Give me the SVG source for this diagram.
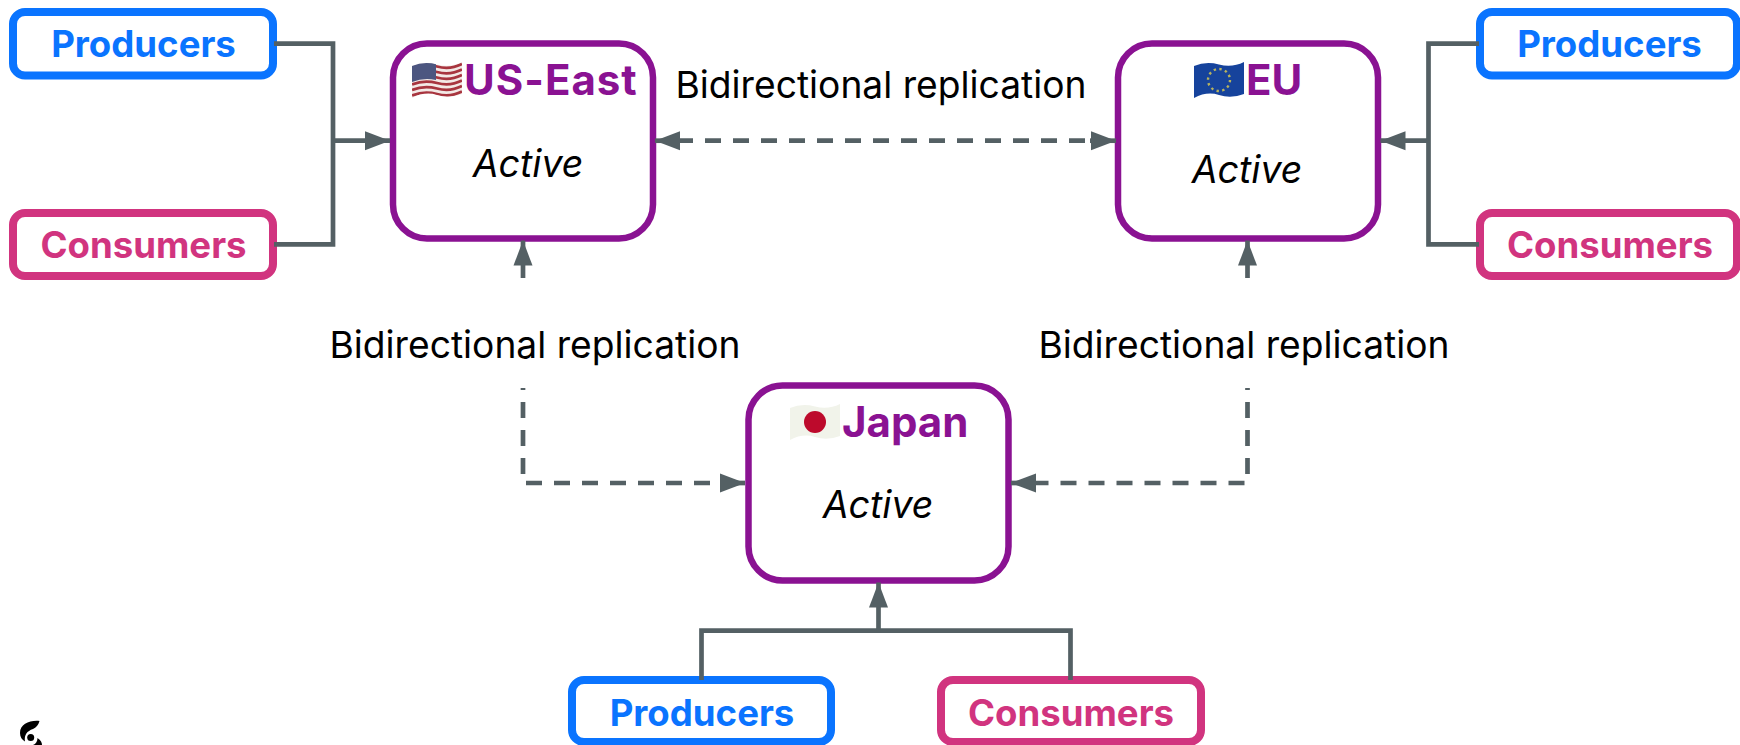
<svg xmlns="http://www.w3.org/2000/svg" width="1740" height="745" viewBox="0 0 1740 745">
<style>
text{font-family:Inter,"Liberation Sans",sans-serif}
.t{font-size:36.600px;font-weight:700;text-anchor:middle}
.h{font-size:42px;font-weight:700;fill:#8a1292}
.a{font-size:37.500px;font-style:italic;fill:#000;text-anchor:middle}
.l{font-size:37.200px;fill:#000;text-anchor:middle}
.p rect{fill:#fff;stroke:#0a74ff;stroke-width:8}
.p text{fill:#0a74ff}
.c rect{fill:#fff;stroke:#d1347f;stroke-width:8}
.c text{fill:#d1347f}
.r rect{fill:#fff;stroke:#8a1292;stroke-width:6.500}
.w{fill:none;stroke:#546064;stroke-width:4.700}
.d{stroke-dasharray:16 12}
</style>
<defs>
<marker id="ah" markerUnits="userSpaceOnUse" markerWidth="26" markerHeight="22" refX="25" refY="11" orient="auto"><path d="M0 1.500L25 11L0 20.500Z" fill="#546064"/></marker>
<clipPath id="fl"><path d="M0 5Q12 0 25 3.500T50 1V33Q37 38 25 34T0 37Z"/></clipPath>
</defs>
<g id="producers-us" class="p"><rect x="13" y="12" width="260" height="63.500" rx="12"/><text class="t" x="143.500" y="57">Producers</text></g>
<g id="consumers-us" class="c"><rect x="13" y="213" width="260" height="63" rx="12"/><text class="t" x="143.500" y="258">Consumers</text></g>
<g id="producers-eu" class="p"><rect x="1480" y="12" width="257" height="63.500" rx="12"/><text class="t" x="1609.500" y="57">Producers</text></g>
<g id="consumers-eu" class="c"><rect x="1480" y="213" width="257" height="63" rx="12"/><text class="t" x="1610" y="258">Consumers</text></g>
<g id="producers-jp" class="p"><rect x="572" y="680" width="259" height="62" rx="12"/><text class="t" x="702" y="726">Producers</text></g>
<g id="consumers-jp" class="c"><rect x="941" y="680" width="260" height="62" rx="12"/><text class="t" x="1071" y="726">Consumers</text></g>
<g id="us-east" class="r">
<rect x="393" y="43.500" width="260" height="195" rx="34"/>
<g transform="translate(412 61)" clip-path="url(#fl)">
<rect x="0" y="0" width="50" height="38" style="fill:#f3e9e6;stroke:none"/>
<g fill="none" stroke="#a8353f" stroke-width="2.800"><path d="M0 7Q12 2 25 5.500T50 3"/><path d="M0 12.500Q12 7.500 25 11T50 8.500"/><path d="M0 18Q12 13 25 16.500T50 14"/><path d="M0 23.500Q12 18.500 25 22T50 19.500"/><path d="M0 29Q12 24 25 27.500T50 25"/><path d="M0 34.500Q12 29.500 25 33T50 30.500"/></g>
<path d="M0 0H24V19Q12 16 0 21Z" fill="#4c5680"/>
</g>
<text class="h" x="464" y="95" letter-spacing="1">US-East</text>
<text class="a" x="528" y="177">Active</text>
</g>
<g id="eu" class="r">
<rect x="1118" y="43.500" width="260" height="195" rx="34"/>
<g transform="translate(1194 61)" clip-path="url(#fl)">
<rect x="0" y="0" width="50" height="38" style="fill:#16439c;stroke:none"/>
<circle cx="25" cy="19" r="11" fill="none" stroke="#b7b35e" stroke-width="2.400" stroke-dasharray="2.400 3.360"/>
</g>
<text class="h" x="1246" y="95">EU</text>
<text class="a" x="1247" y="183">Active</text>
</g>
<g id="japan" class="r">
<rect x="748.500" y="385.500" width="260" height="195" rx="34"/>
<g transform="translate(790 403)" clip-path="url(#fl)">
<rect x="0" y="0" width="50" height="38" style="fill:#f1f3ea;stroke:none"/>
<circle cx="25" cy="19" r="11" fill="#bd0a2c"/>
</g>
<text class="h" x="842" y="437">Japan</text>
<text class="a" x="878" y="518">Active</text>
</g>
<g id="connectors">
<path class="w" d="M274 43.700H333V244.300H274"/>
<path class="w" d="M333 140.700H390" marker-end="url(#ah)"/>
<path class="w" d="M1479 43.700H1428.500V244.300H1479"/>
<path class="w" d="M1428.500 140.700H1380.500" marker-end="url(#ah)"/>
<path class="w" d="M701.500 680V630.700H1070.500V680"/>
<path class="w" d="M878.500 632V582.500" marker-end="url(#ah)"/>
<path class="w d" d="M677 140.700H1085"/>
<path class="w" d="M680 140.700H655" marker-end="url(#ah)"/>
<path class="w" d="M1090 140.700H1116" marker-end="url(#ah)"/>
<path class="w" d="M523 278V240.500" marker-end="url(#ah)"/>
<path class="w" d="M523 388V390"/>
<path class="w d" d="M523 402V483H738"/>
<path class="w" d="M720 483H745" marker-end="url(#ah)"/>
<path class="w" d="M1247.500 278V240.500" marker-end="url(#ah)"/>
<path class="w" d="M1247.500 388V390"/>
<path class="w d" d="M1247.500 402V483H1034"/>
<path class="w" d="M1036 483H1011" marker-end="url(#ah)"/>
</g>
<g id="labels">
<text class="l" x="881" y="98">Bidirectional replication</text>
<text class="l" x="535" y="358">Bidirectional replication</text>
<text class="l" x="1244" y="358">Bidirectional replication</text>
</g>
<g id="logo"><path d="M39.500 721C30 720 20 724 20 733C20 737 22 740 25 741.500C24 735 27 731 33 729C36 727.500 38.500 725 39.500 721Z" fill="#000"/><circle cx="30.700" cy="737.500" r="3.500" fill="#000"/><path d="M37.500 738C41 740 42 743 42 745H33C36 744 37.500 741 37.500 738Z" fill="#000"/></g>
</svg>
